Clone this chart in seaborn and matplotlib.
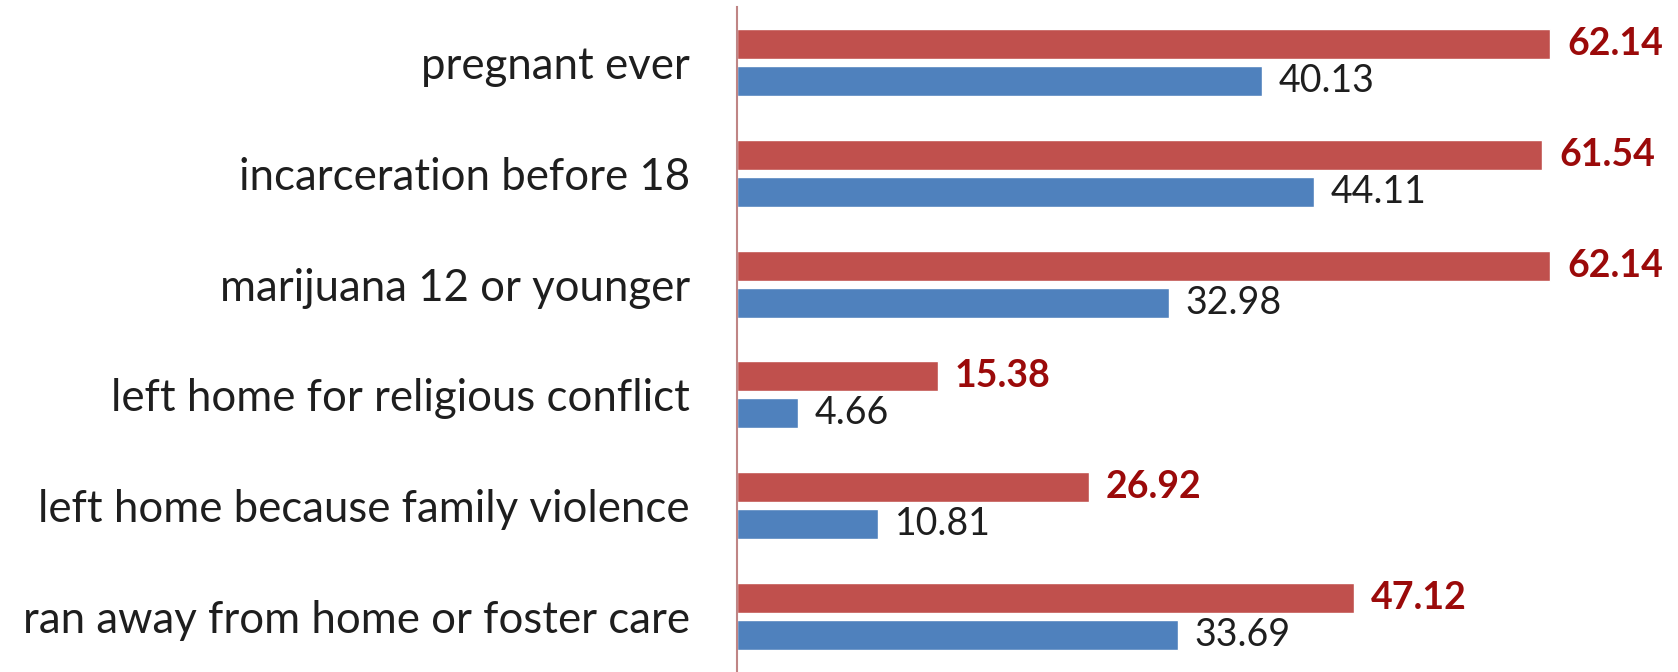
import matplotlib
matplotlib.use("Agg")
from matplotlib import pyplot as plt
import pandas as pd
import seaborn as sns

# categories, top to bottom
categories = [
    "pregnant ever",
    "incarceration before 18",
    "marijuana 12 or younger",
    "left home for religious conflict",
    "left home because family violence",
    "ran away from home or foster care",
]
red_values = [62.14, 61.54, 62.14, 15.38, 26.92, 47.12]
blue_values = [40.13, 44.11, 32.98, 4.66, 10.81, 33.69]
series_names = ["red", "blue"]

df = pd.DataFrame({
    "category": categories * 2,
    "value": red_values + blue_values,
    "series": [series_names[0]] * len(categories) + [series_names[1]] * len(categories),
})

sns.set_style("white")
plt.rcParams["font.family"] = ["Lato", "DejaVu Sans"]

fig = plt.figure(figsize=(16.78, 6.72), dpi=100)
ax = fig.add_axes([737 / 1678, 0.0, 1 - 737 / 1678, 1 - 7 / 672])

sns.barplot(data=df, y="category", x="value", hue="series", orient="h",
            palette={"red": "#C0504D", "blue": "#4F81BD"},
            width=0.667, gap=0.19, saturation=1, ax=ax, legend=False)

ax.set_xlim(0, 71.9)
ax.set_ylim(5.5, -0.5)
ax.set_xlabel("")
ax.set_ylabel("")
ax.set_xticks([])

for side in ["top", "right", "bottom"]:
    ax.spines[side].set_visible(False)
ax.spines["left"].set_color("#BF8585")
ax.spines["left"].set_linewidth(1.5)

ax.tick_params(axis="y", length=0, pad=34, labelsize=31.5, labelcolor="#1E1E1E")

ax.bar_label(ax.containers[0], fmt="%.2f", padding=12, fontsize=27,
             fontweight="bold", color="#9B0A0A")
ax.bar_label(ax.containers[1], fmt="%.2f", padding=12, fontsize=27,
             color="#1E1E1E")

fig.savefig("out.png", dpi=100)
